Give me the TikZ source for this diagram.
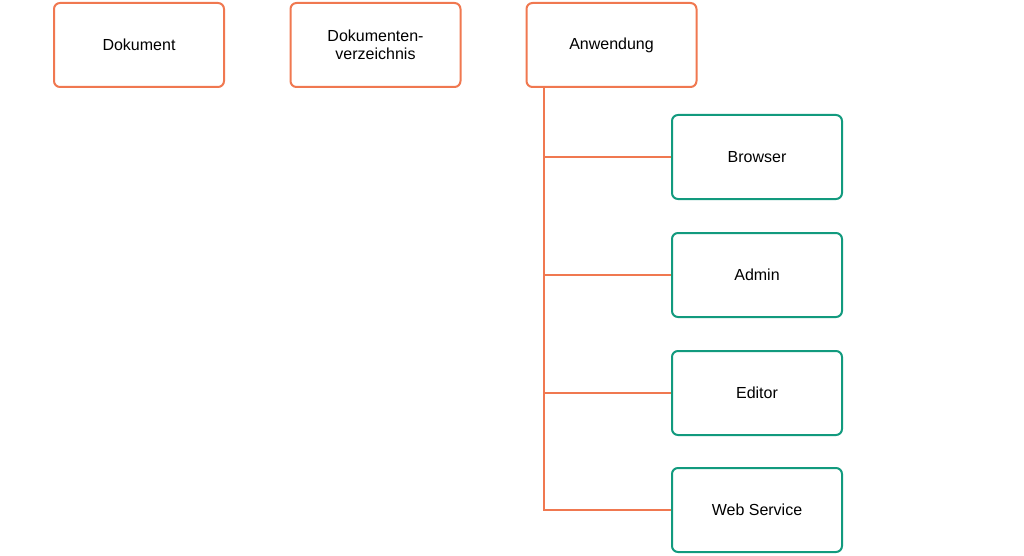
\documentclass[tikz,border=0pt]{standalone}
\usepackage{fontspec}
\setmainfont{Liberation Sans}
\definecolor{org}{HTML}{F07850}
\definecolor{grn}{HTML}{129A7E}
\begin{document}
\begin{tikzpicture}[x=1pt,y=-1pt,
  box/.style={draw=#1,line width=2pt,rounded corners=6pt,minimum width=170pt,minimum height=84pt,align=center,font=\fontsize{16}{18}\selectfont,fill=white},
  ln/.style={draw=org,line width=1.2pt}]
\useasboundingbox (0,0) rectangle (1024,556);
\node[box=org] (dok) at (139,45) {Dokument};
\node[box=org] (verz) at (375.5,45) {Dokumenten-\\verzeichnis};
\node[box=org] (anw) at (611.5,45) {Anwendung};
\node[box=grn] (b) at (757,157) {Browser};
\node[box=grn] (a) at (757,275) {Admin};
\node[box=grn] (e) at (757,393) {Editor};
\node[box=grn] (w) at (757,510) {Web Service};
\coordinate (t) at (544,87);
\draw[ln] (t) |- (b.west);
\draw[ln] (t) |- (a.west);
\draw[ln] (t) |- (e.west);
\draw[ln] (t) |- (w.west);
\end{tikzpicture}
\end{document}
